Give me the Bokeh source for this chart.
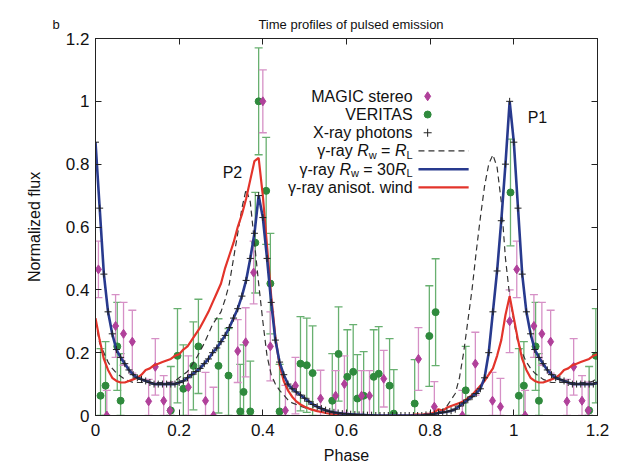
import numpy as np
from bokeh.plotting import figure
from bokeh.models import Label, LinearAxis, FixedTicker, CustomJSTickFormatter, Range1d
from bokeh.embed import file_html
from bokeh.resources import INLINE

# ---------------- data (one period, phase 0..1; phases 1..1.2 repeat 0..0.2) ----------------
model_phase = [round(0.01 * i, 2) for i in range(100)]
blue_30RL = [0.87, 0.66, 0.45, 0.33, 0.26, 0.21, 0.185, 0.165, 0.145, 0.13,
             0.12, 0.115, 0.11, 0.105, 0.10, 0.10, 0.10, 0.10, 0.10, 0.10,
             0.105, 0.11, 0.12, 0.13, 0.14, 0.15, 0.165, 0.18, 0.20, 0.215,
             0.235, 0.255, 0.28, 0.31, 0.34, 0.38, 0.43, 0.50, 0.58, 0.70,
             0.63, 0.50, 0.36, 0.24, 0.17, 0.13, 0.10, 0.085, 0.075, 0.065,
             0.055, 0.045, 0.035, 0.028, 0.022, 0.017, 0.013, 0.01, 0.008, 0.006,
             0.005, 0.004, 0.003, 0.002, 0.002, 0.001, 0.001, 0.0, 0.0, 0.0,
             0.0, 0.0, 0.0, 0.0, 0.0, 0.0, 0.0, 0.0, 0.0, 0.002,
             0.003, 0.005, 0.008, 0.01, 0.012, 0.015, 0.02, 0.03, 0.04, 0.05,
             0.06, 0.07, 0.085, 0.12, 0.20, 0.33, 0.46, 0.62, 0.80, 1.0]
red_anisot = [0.31, 0.24, 0.18, 0.145, 0.12, 0.11, 0.105, 0.105, 0.11, 0.115,
              0.12, 0.13, 0.145, 0.15, 0.16, 0.165, 0.17, 0.175, 0.18, 0.19,
              0.195, 0.21, 0.22, 0.24, 0.26, 0.28, 0.305, 0.33, 0.36, 0.39,
              0.42, 0.47, 0.51, 0.55, 0.60, 0.64, 0.69, 0.75, 0.81, 0.82,
              0.70, 0.54, 0.38, 0.25, 0.16, 0.11, 0.08, 0.06, 0.045, 0.035,
              0.028, 0.022, 0.018, 0.014, 0.011, 0.008, 0.006, 0.005, 0.004, 0.003,
              0.003, 0.002, 0.002, 0.001, 0.001, 0.0, 0.0, 0.0, 0.0, 0.0,
              0.0, 0.0, 0.0, 0.0, 0.0, 0.0, 0.002, 0.004, 0.002, 0.005,
              0.005, 0.01, 0.02, 0.015, 0.025, 0.03, 0.035, 0.04, 0.045, 0.055,
              0.065, 0.08, 0.095, 0.11, 0.13, 0.15, 0.19, 0.24, 0.32, 0.38]
dash_RL = [0.30, 0.23, 0.20, 0.17, 0.15, 0.135, 0.125, 0.115, 0.11, 0.105,
           0.105, 0.105, 0.105, 0.105, 0.105, 0.105, 0.105, 0.105, 0.105, 0.11,
           0.12, 0.13, 0.14, 0.16, 0.18, 0.205, 0.23, 0.26, 0.29, 0.31,
           0.33, 0.37, 0.42, 0.50, 0.58, 0.66, 0.72, 0.68, 0.55, 0.42,
           0.30, 0.19, 0.13, 0.10, 0.08, 0.065, 0.05, 0.04, 0.035, 0.03,
           0.025, 0.02, 0.017, 0.014, 0.012, 0.01, 0.008, 0.006, 0.004, 0.002,
           0.0, 0.0, 0.0, 0.0, 0.0, 0.0, 0.0, 0.0, 0.0, 0.0,
           0.0, 0.0, 0.0, 0.0, 0.0, 0.0, 0.0, 0.0, 0.0, 0.0,
           0.0, 0.005, 0.01, 0.02, 0.03, 0.05, 0.07, 0.12, 0.20, 0.30,
           0.40, 0.52, 0.63, 0.73, 0.80, 0.83, 0.79, 0.68, 0.50, 0.38]
xray_flux = blue_30RL

magic_phase = [0.007, 0.027, 0.048, 0.067, 0.088, 0.127, 0.143, 0.163, 0.178, 0.222,
               0.263, 0.282, 0.340, 0.359, 0.378, 0.400, 0.418, 0.454, 0.478, 0.538,
               0.574, 0.595, 0.636, 0.655, 0.689, 0.772, 0.810, 0.877, 0.908, 0.949,
               0.968, 0.990]
magic_flux = [0.465, 0.0, 0.285, 0.26, 0.235, 0.045, 0.155, 0.047, 0.016, 0.09,
              0.047, 0.0, 0.205, 0.233, 0.455, 1.0, 0.22, 0.016, 0.095, 0.054,
              0.063, 0.10, 0.063, 0.063, 0.117, 0.18, 0.028, 0.0, 0.165, 0.047,
              0.028, 0.30]
magic_err = [0.09, 0.08, 0.10, 0.10, 0.10, 0.07, 0.09, 0.08, 0.09, 0.10,
             0.09, 0.09, 0.10, 0.11, 0.10, 0.10, 0.11, 0.08, 0.09, 0.09,
             0.08, 0.09, 0.08, 0.08, 0.09, 0.10, 0.08, 0.08, 0.10, 0.09,
             0.09, 0.10]

veritas_phase = [0.012, 0.024, 0.052, 0.060, 0.180, 0.196, 0.210, 0.234, 0.246, 0.294,
                 0.318, 0.346, 0.354, 0.370, 0.382, 0.390, 0.408, 0.418, 0.440, 0.490,
                 0.505, 0.519, 0.566, 0.581, 0.602, 0.616, 0.626, 0.641, 0.665, 0.677,
                 0.703, 0.713, 0.763, 0.798, 0.813, 0.885, 0.992]
veritas_flux = [0.063, 0.095, 0.22, 0.047, 0.016, 0.19, 0.085, 0.158, 0.22, 0.158,
                0.127, 0.013, 0.075, 0.013, 0.55, 1.0, 0.715, 0.42, 0.013, 0.165,
                0.16, 0.135, 0.047, 0.196, 0.123, 0.139, 0.054, 0.063, 0.123, 0.133,
                0.095, 0.006, 0.038, 0.253, 0.329, 0.08, 0.71]
veritas_err = [0.15, 0.14, 0.14, 0.15, 0.14, 0.15, 0.14, 0.14, 0.15, 0.15,
               0.15, 0.15, 0.15, 0.16, 0.16, 0.17, 0.17, 0.16, 0.15, 0.15,
               0.15, 0.15, 0.15, 0.15, 0.15, 0.15, 0.14, 0.14, 0.15, 0.15,
               0.15, 0.14, 0.14, 0.16, 0.17, 0.14, 0.17]

x_ticks = [0, 0.2, 0.4, 0.6, 0.8, 1.0, 1.2]
y_ticks = [0, 0.2, 0.4, 0.6, 0.8, 1.0, 1.2]

legend_labels = ["MAGIC stereo", "VERITAS", "X-ray photons"]
panel_letter = "b"
title_text = "Time profiles of pulsed emission"


# ---------------- helpers ----------------
def extend(ph, vals, upto=1.2):
    ph = np.asarray(ph, float)
    vals = np.asarray(vals, float)
    m = ph + 1.0 <= upto + 1e-9
    return np.concatenate([ph, ph[m] + 1.0]), np.concatenate([vals, vals[m]])


def extend3(ph, vals, errs):
    ph = np.asarray(ph, float)
    m = ph + 1.0 <= 1.2
    return (np.concatenate([ph, ph[m] + 1.0]),
            np.concatenate([np.asarray(vals, float), np.asarray(vals, float)[m]]),
            np.concatenate([np.asarray(errs, float), np.asarray(errs, float)[m]]))


FONT = "Liberation Sans"
NB = "\u00a0"

p = figure(width=617, height=466, output_backend="svg", toolbar_location=None,
           x_range=Range1d(0, 1.2), y_range=Range1d(0, 1.2),
           min_border_left=95, min_border_right=20, min_border_top=38, min_border_bottom=49,
           title=panel_letter + NB * 55 + title_text)
p.title.align = "left"
p.title.offset = -43
p.title.text_font = FONT
p.title.text_font_size = "13px"
p.title.text_font_style = "normal"
p.title.text_color = "#111111"
p.title.vertical_align = "top"
p.title.standoff = 10
p.grid.visible = False
p.outline_line_color = "#222222"
p.outline_line_width = 1
p.background_fill_color = "white"
p.border_fill_color = "white"

fmt = CustomJSTickFormatter(code="return tick.toFixed(1).replace(/\\.0$/, '');")
for ax in (p.xaxis[0], p.yaxis[0]):
    ax.ticker = FixedTicker(ticks=x_ticks)
    ax.formatter = fmt
    ax.major_tick_in = 6
    ax.major_tick_out = 0
    ax.minor_tick_line_color = None
    ax.axis_line_color = "#222222"
    ax.major_tick_line_color = "#222222"
    ax.major_label_text_font = FONT
    ax.major_label_text_font_size = "17px"
    ax.major_label_text_color = "#111111"
    ax.axis_label_text_font = FONT
    ax.axis_label_text_font_size = "16px"
    ax.axis_label_text_font_style = "normal"
    ax.axis_label_text_color = "#111111"
p.xaxis.axis_label = "Phase"
p.yaxis.axis_label = "Normalized flux"
p.xaxis.major_label_standoff = 8
p.yaxis.major_label_standoff = 6
p.xaxis.axis_label_standoff = 8
p.yaxis.axis_label_standoff = 20

for side in ("above", "right"):
    ax = LinearAxis(ticker=FixedTicker(ticks=y_ticks), major_label_text_font_size="0px",
                    major_tick_in=6, major_tick_out=0, minor_tick_line_color=None,
                    axis_line_color="#222222", major_tick_line_color="#222222",
                    major_label_standoff=0)
    ax.major_label_text_color = None
    p.add_layout(ax, side)

# error bars + points
MAG_C, MAG_E = "#b0409a", "#d690c6"
VER_C, VER_E = "#2f8a3d", "#68b070"

vx, vy, ve = extend3(veritas_phase, veritas_flux, veritas_err)
lo = np.clip(vy - ve, 0, None)
hi = vy + ve
p.segment(vx, lo, vx, hi, line_color=VER_E, line_width=1.3)
p.scatter(vx, hi, marker="dash", size=8, line_color=VER_E, line_width=1.3)
p.scatter(vx, lo, marker="dash", size=8, line_color=VER_E, line_width=1.3)

mx, my, me = extend3(magic_phase, magic_flux, magic_err)
lo = np.clip(my - me, 0, None)
hi = my + me
p.segment(mx, lo, mx, hi, line_color=MAG_E, line_width=1.3)
p.scatter(mx, hi, marker="dash", size=8, line_color=MAG_E, line_width=1.3)
p.scatter(mx, lo, marker="dash", size=8, line_color=MAG_E, line_width=1.3)

p.scatter(vx, vy, marker="circle", size=7, fill_color=VER_C, line_color=VER_C)
p.scatter(mx, my, marker="diamond", size=9, fill_color=MAG_C, line_color=MAG_C)

# model curves
dx, dy = extend(model_phase + [1.0], dash_RL + [dash_RL[0]])
p.line(dx, dy, line_color="#333333", line_width=1.2, line_dash="6 4")
rx, ry = extend(model_phase + [1.0], red_anisot + [red_anisot[0]])
p.line(rx, ry, line_color="#e3342b", line_width=2.2)
bx, by = extend(model_phase + [1.0], blue_30RL + [blue_30RL[0]])
p.line(bx, by, line_color="#283a8e", line_width=2.6)
xx, xy = extend(model_phase, xray_flux)
p.scatter(xx, xy, marker="cross", size=7, line_color="#222222", line_width=1)

# legend (custom: text right-aligned, symbol to the right)
TXT = dict(text_font=FONT, text_font_size="16px", text_color="#111111", text_baseline="middle")
leg_x = 0.758
leg_y = [1.016, 0.958, 0.900, 0.842, 0.784, 0.726]
sym_x = 0.794
for lab, yy in zip(legend_labels, leg_y[:3]):
    p.add_layout(Label(x=leg_x, y=yy, text=lab, text_align="right", **TXT))
p.scatter([sym_x], [leg_y[0]], marker="diamond", size=9, fill_color=MAG_C, line_color=MAG_C)
p.scatter([sym_x], [leg_y[1]], marker="circle", size=7, fill_color=VER_C, line_color=VER_C)
p.scatter([sym_x], [leg_y[2]], marker="cross", size=8, line_color="#222222")


def rich_label(y, pieces):
    # pieces from right to left: (text, width_px, italic, sub)
    off = 0.0
    for txt, w, ital, sub in pieces:
        p.add_layout(Label(x=leg_x, y=y, text=txt, text_align="right", x_offset=-off,
                           y_offset=-4 if sub else 0,
                           text_font=FONT, text_font_size="11px" if sub else "16px",
                           text_font_style="italic" if ital else "normal",
                           text_color="#111111", text_baseline="middle"))
        off += w


rich_label(leg_y[3], [("L", 6.1, False, True), ("R", 11.6, True, False), (NB + "=" + NB, 18.2, False, False),
                      ("w", 7.9, False, True), ("R", 11.6, True, False), ("\u03b3-ray" + NB, 0, False, False)])
rich_label(leg_y[4], [("L", 6.1, False, True), ("R", 11.6, True, False), (NB + "=" + NB + "30", 36.0, False, False),
                      ("w", 7.9, False, True), ("R", 11.6, True, False), ("\u03b3-ray" + NB, 0, False, False)])
p.add_layout(Label(x=leg_x, y=leg_y[5], text="\u03b3-ray anisot. wind", text_align="right", **TXT))
p.line([0.772, 0.892], [leg_y[3]] * 2, line_color="#333333", line_width=1.2, line_dash="6 4")
p.line([0.772, 0.892], [leg_y[4]] * 2, line_color="#283a8e", line_width=2.6)
p.line([0.772, 0.892], [leg_y[5]] * 2, line_color="#e3342b", line_width=2.2)

# peak labels
p.add_layout(Label(x=1.033, y=0.95, text="P1", **TXT))
p.add_layout(Label(x=0.304, y=0.775, text="P2", **TXT))

open("out.html", "w").write(file_html(p, INLINE))
